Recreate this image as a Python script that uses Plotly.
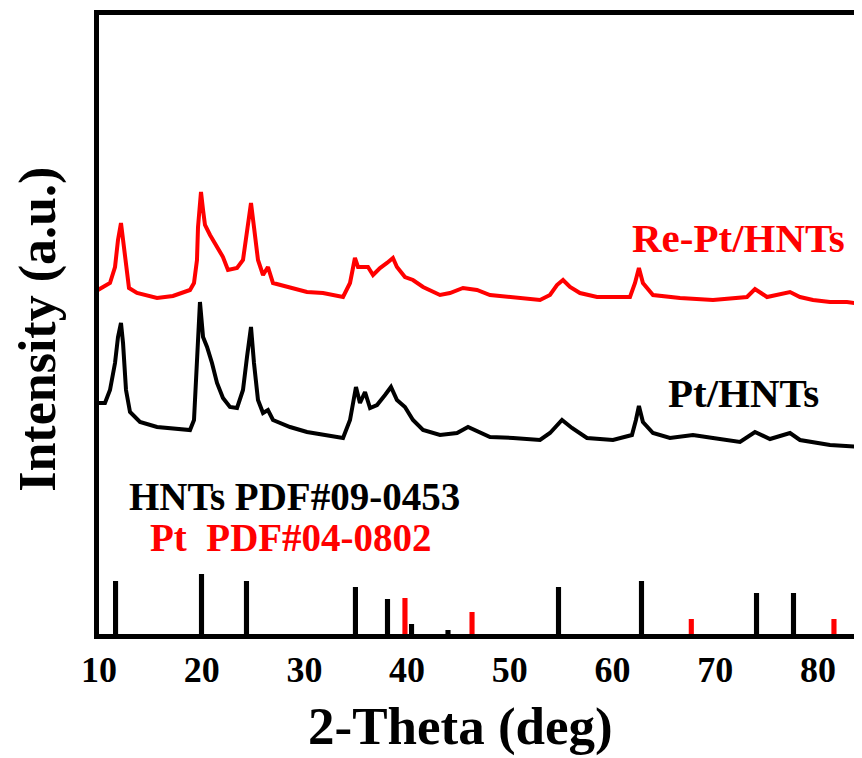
import plotly.graph_objects as go

# ---- data (intensity in arbitrary units) ----
two_theta = [9.90, 10.58, 11.07, 11.56, 11.85, 12.14, 12.34, 12.63, 12.92, 13.70,
             15.65, 17.20, 18.86, 19.25, 19.54, 19.64, 19.93, 20.13, 20.32, 20.81,
             21.49, 22.07, 22.56, 23.44, 24.02, 24.41, 24.80, 25.09, 25.48, 25.97,
             26.45, 26.94, 28.60, 30.25, 31.81, 33.76, 34.44, 34.92, 35.22, 35.70,
             36.19, 36.68, 37.36, 38.04, 38.62, 39.01, 39.79, 40.57, 41.55, 43.20,
             44.17, 45.44, 46.80, 48.07, 50.31, 52.94, 53.91, 54.59, 55.18, 55.86,
             56.83, 58.49, 60.04, 61.70, 62.19, 62.57, 62.96, 63.94, 66.57, 69.78,
             73.09, 73.87, 75.04, 77.28, 78.25, 79.52, 81.17, 82.83, 84.29]
re_pt_hnts = [346, 350, 353, 369, 396, 413, 396, 366, 348, 343,
              338, 340, 346, 353, 376, 409, 444, 426, 411, 401,
              389, 379, 366, 368, 376, 406, 433, 409, 376, 361,
              369, 353, 348, 344, 343, 339, 353, 378, 369, 369,
              369, 361, 368, 373, 378, 369, 359, 356, 349, 341,
              343, 348, 346, 341, 339, 336, 341, 351, 356, 349,
              343, 339, 339, 339, 353, 368, 353, 341, 338, 336,
              339, 347, 339, 344, 339, 336, 334, 334, 332]

two_theta_pt = [9.90, 10.58, 11.07, 11.56, 11.85, 12.14, 12.34, 12.63, 13.02, 13.99,
                15.65, 17.20, 18.86, 19.25, 19.54, 19.64, 19.83, 20.13, 20.52, 21.00,
                21.49, 22.07, 22.75, 23.44, 24.02, 24.41, 24.80, 25.09, 25.48, 25.97,
                26.45, 26.94, 28.60, 30.25, 31.81, 33.76, 34.44, 35.02, 35.41, 35.90,
                36.39, 37.07, 37.85, 38.43, 39.01, 39.79, 40.57, 41.55, 43.20, 44.86,
                45.93, 47.10, 48.07, 50.31, 52.94, 53.91, 55.08, 56.05, 57.51, 60.04,
                61.89, 62.28, 62.57, 62.96, 63.94, 65.59, 67.83, 69.78, 72.41, 73.87,
                75.33, 77.28, 78.25, 81.17, 84.29]
pt_hnts = [233, 233, 246, 273, 299, 313, 293, 246, 224, 214,
           209, 208, 206, 216, 273, 306, 334, 299, 289, 273,
           253, 238, 229, 228, 246, 279, 309, 273, 236, 223,
           226, 216, 209, 204, 201, 198, 216, 249, 233, 244,
           228, 231, 241, 249, 236, 229, 216, 206, 201, 203,
           209, 204, 199, 198, 196, 203, 216, 208, 198, 196,
           201, 216, 230, 214, 203, 198, 201, 198, 194, 204,
           197, 203, 196, 191, 189]

hnts_ref_pos = [11.61, 19.98, 24.36, 34.97, 38.09, 40.43, 43.98, 54.74, 62.82, 74.02, 77.62]
hnts_ref_int = [55, 62, 55, 49, 37, 12, 6, 49, 55, 43, 43]
pt_ref_pos = [39.79, 46.32, 67.67, 81.56]
pt_ref_int = [38, 24, 17, 17]

tick_vals = [10, 20, 30, 40, 50, 60, 70, 80]
tick_text = ["10", "20", "30", "40", "50", "60", "70", "80"]

FONT = "Liberation Serif"
RED = "#ff0000"
BLACK = "#000000"

fig = go.Figure()
fig.add_trace(go.Scatter(x=two_theta, y=re_pt_hnts, mode="lines",
                         line=dict(color=RED, width=4), showlegend=False))
fig.add_trace(go.Scatter(x=two_theta_pt, y=pt_hnts, mode="lines",
                         line=dict(color=BLACK, width=4), showlegend=False))
fig.add_trace(go.Bar(x=hnts_ref_pos, y=hnts_ref_int, width=0.5,
                     marker=dict(color=BLACK, line=dict(width=0)), showlegend=False))
fig.add_trace(go.Bar(x=pt_ref_pos, y=pt_ref_int, width=0.5,
                     marker=dict(color=RED, line=dict(width=0)), showlegend=False))

# the page body has an 8px default margin, so the figure is sized to fit inside it
fig.update_layout(
    width=854, height=750,
    margin=dict(l=91, r=0, t=7, b=124),
    paper_bgcolor="white", plot_bgcolor="white",
    barmode="overlay",
    xaxis=dict(range=[10, 84.29], showgrid=False, zeroline=False,
               showline=True, linecolor=BLACK, linewidth=5, mirror=True,
               ticks="", tickvals=tick_vals, ticktext=tick_text,
               tickfont=dict(family=FONT, size=36, color=BLACK, weight="bold")),
    yaxis=dict(range=[2, 621], showgrid=False, zeroline=False,
               showline=True, linecolor=BLACK, linewidth=5, mirror=False,
               ticks="", showticklabels=False),
    annotations=[
        dict(text="2-Theta (deg)", xref="paper", yref="paper", x=0.4744, y=-0.150,
             xanchor="center", yanchor="middle", showarrow=False,
             font=dict(family=FONT, size=53, color=BLACK, weight="bold")),
        dict(text="Intensity (a.u.)", xref="paper", yref="paper", x=-0.0800, y=0.493,
             xanchor="center", yanchor="middle", showarrow=False, textangle=-90,
             font=dict(family=FONT, size=52, color=BLACK, weight="bold")),
        dict(text="Re-Pt/HNTs", x=72.31, y=398, xanchor="center", yanchor="middle",
             showarrow=False, font=dict(family=FONT, size=41, color=RED, weight="bold")),
        dict(text="Pt/HNTs", x=72.75, y=243, xanchor="center", yanchor="middle",
             showarrow=False, font=dict(family=FONT, size=41, color=BLACK, weight="bold")),
        dict(text="HNTs PDF#09-0453", x=29.08, y=140, xanchor="center", yanchor="middle",
             showarrow=False, font=dict(family=FONT, size=39, color=BLACK, weight="bold")),
        dict(text="Pt&nbsp;&nbsp;PDF#04-0802", x=28.74, y=99, xanchor="center", yanchor="middle",
             showarrow=False, font=dict(family=FONT, size=39, color=RED, weight="bold")),
    ],
)

fig.write_html("out.html")
